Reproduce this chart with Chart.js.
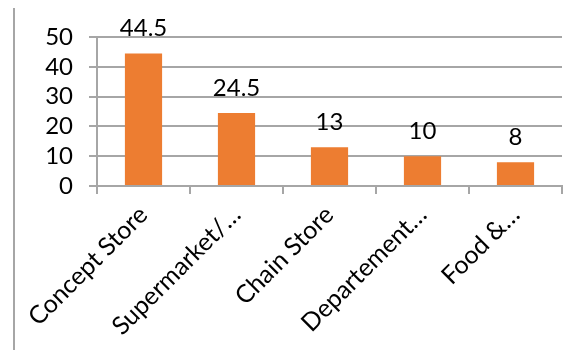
<!DOCTYPE html>
<html>
<head>
<meta charset="utf-8">
<script src="https://cdn.jsdelivr.net/npm/chart.js@4"></script>
<style>
  html, body { margin: 0; padding: 0; background: #fff; }
  #wrap { position: relative; width: 587px; height: 350px; }
  #edge { position: absolute; left: 13px; top: 8px; width: 0; height: 342px; border-left: 2px solid #a6a6a6; }
  canvas { position: absolute; left: 0; top: 0; }
</style>
</head>
<body>
<div id="wrap">
  <div id="edge"></div>
  <canvas id="chart" width="587" height="350"></canvas>
</div>
<script>
// --- Chart data ---
const categories = ['Concept Store', 'Supermarket/…', 'Chain Store', 'Departement…', 'Food &…'];
const values = [44.5, 24.5, 13, 10, 8];
const yTicks = [0, 10, 20, 30, 40, 50];

const FONT = 'Lato, "Open Sans", sans-serif';
const GRID = '#a6a6a6';

// Draws the value above each bar (no datalabels plugin available offline)
const valueLabels = {
    id: 'valueLabels',
    afterDatasetsDraw(chart) {
        const ctx = chart.ctx;
        const meta = chart.getDatasetMeta(0);
        ctx.save();
        ctx.font = '24px ' + FONT;
        ctx.fillStyle = '#000';
        ctx.textAlign = 'center';
        ctx.textBaseline = 'alphabetic';
        meta.data.forEach((bar, i) => {
            ctx.fillText(String(values[i]), bar.x, bar.y - 17);
        });
        ctx.restore();
    }
};

new Chart(document.getElementById('chart'), {
    type: 'bar',
    data: {
        labels: categories,
        datasets: [{
            data: values,
            backgroundColor: '#ED7D31',
            categoryPercentage: 0.8,
            barPercentage: 0.5
        }]
    },
    options: {
        responsive: false,
        animation: false,
        layout: { padding: { top: 37, right: 25, left: 0, bottom: 0 } },
        plugins: { legend: { display: false }, tooltip: { enabled: false } },
        scales: {
            x: {
                afterFit(scale) { scale.height = 164; },
                grid: { drawOnChartArea: false, drawTicks: true, tickLength: 8, color: GRID, lineWidth: 2 },
                border: { color: GRID, width: 2 },
                ticks: {
                    autoSkip: false, minRotation: 45, maxRotation: 45, padding: 6,
                    color: '#000', font: { family: FONT, size: 25 }
                }
            },
            y: {
                min: 0, max: 50,
                afterFit(scale) { scale.width = 97; },
                afterBuildTicks(scale) { scale.ticks = yTicks.map(v => ({ value: v })); },
                grid: { color: GRID, lineWidth: 2, tickLength: 8 },
                border: { color: GRID, width: 2 },
                ticks: { autoSkip: false, padding: 16, color: '#000', font: { family: FONT, size: 24 } }
            }
        }
    },
    plugins: [valueLabels]
});
</script>
</body>
</html>
